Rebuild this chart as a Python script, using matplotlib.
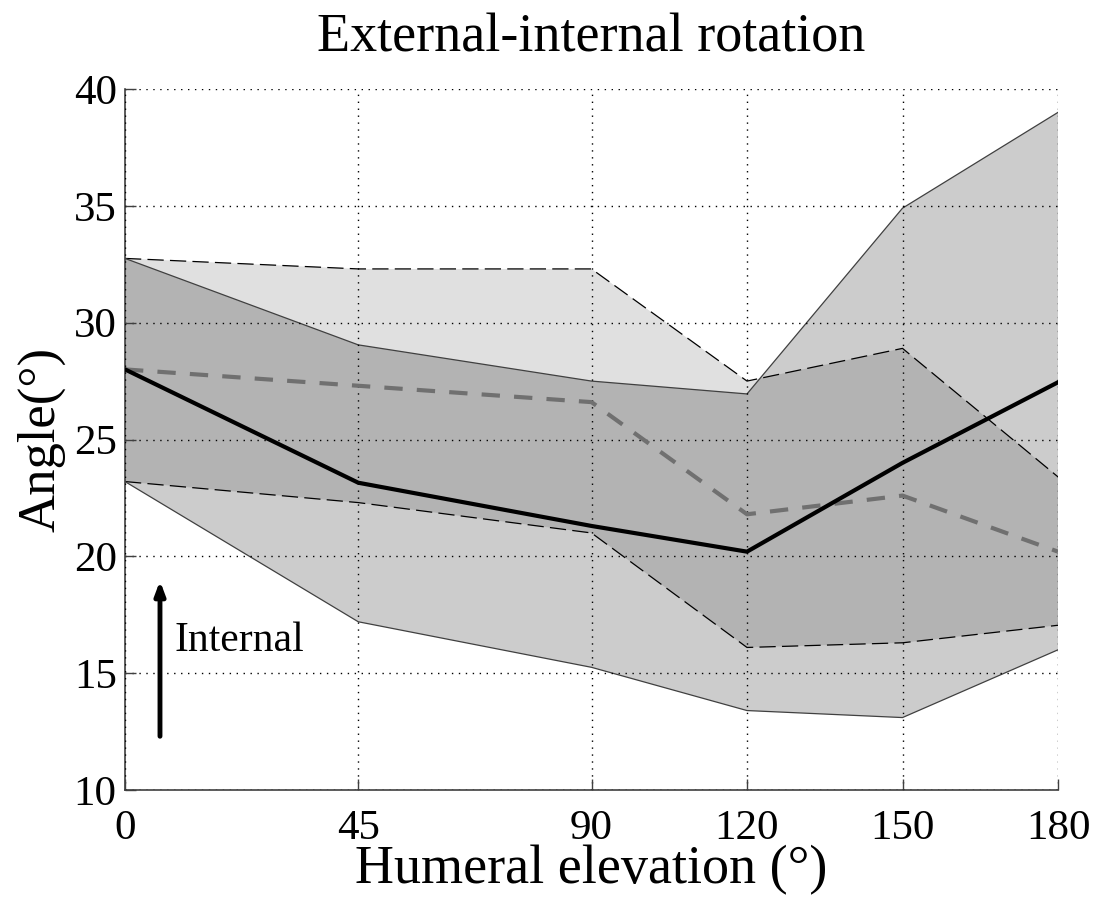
import matplotlib
matplotlib.use("Agg")
import matplotlib.pyplot as plt

plt.rcParams['font.family'] = ['Liberation Serif', 'DejaVu Serif']

elevation = [0, 45, 90, 120, 150, 180]
xticks = [0, 45, 90, 120, 150, 180]
yticks = [10, 15, 20, 25, 30, 35, 40]

# group A (solid line)
mean_a = [28.0, 23.15, 21.3, 20.2, 24.0, 27.45]
upper_a = [32.75, 29.05, 27.5, 26.95, 34.9, 39.0]
lower_a = [23.2, 17.2, 15.25, 13.4, 13.1, 16.0]

# group B (dashed line)
mean_b = [28.0, 27.3, 26.6, 21.8, 22.6, 20.2]
upper_b = [32.75, 32.3, 32.3, 27.5, 28.9, 23.4]
lower_b = [23.2, 22.3, 21.0, 16.1, 16.3, 17.05]

fig = plt.figure(figsize=(10.97, 9.0), dpi=100)
ax = fig.add_axes([125/1097, 1-790/900, (1058-125)/1097, (790-89)/900])

ax.fill_between(elevation, lower_b, upper_b, facecolor='black', alpha=0.122, linewidth=0, zorder=1)
ax.fill_between(elevation, lower_a, upper_a, facecolor='black', alpha=0.2, linewidth=0, zorder=1)

ax.plot(elevation, upper_b, color='black', lw=0.9, ls=(0, (13, 5)), zorder=2)
ax.plot(elevation, lower_b, color='black', lw=0.9, ls=(0, (13, 5)), zorder=2)
ax.plot(elevation, upper_a, color='#404040', lw=0.9, zorder=2)
ax.plot(elevation, lower_a, color='#404040', lw=0.9, zorder=2)

ax.plot(elevation, mean_b, color='#707070', lw=3, ls=(0, (4.4, 3.4)), zorder=3)
ax.plot(elevation, mean_a, color='black', lw=3, zorder=4)

ax.set_xlim(0, 180)
ax.set_ylim(10, 40)
ax.set_xticks(xticks)
ax.set_yticks(yticks)
ax.grid(True, color='black', ls=(0, (1, 4)), lw=1.0)
ax.set_axisbelow(False)
for s in ['top', 'right']:
    ax.spines[s].set_visible(False)
for s in ['left', 'bottom']:
    ax.spines[s].set_color('#404040')
    ax.spines[s].set_linewidth(1.2)
ax.tick_params(direction='in', length=8, width=1, labelsize=31, color='#404040')
ax.tick_params(axis='x', pad=14)
ax.tick_params(axis='y', pad=6)

ax.annotate('', xy=(6.75, 18.95), xytext=(6.75, 12.3),
            arrowprops=dict(arrowstyle='-|>,head_length=0.8,head_width=0.3', color='black', lw=3.5,
                            shrinkA=0, shrinkB=0), zorder=5)
ax.text(9.5, 16.4, 'Internal', fontsize=30, va='center', ha='left', zorder=5)

ax.set_title('External-internal rotation', fontsize=39, pad=27)
ax.set_xlabel('Humeral elevation (°)', fontsize=39, labelpad=-2)
ax.set_ylabel('Angle(°)', fontsize=38, labelpad=6)

fig.savefig('out.png', dpi=100)
